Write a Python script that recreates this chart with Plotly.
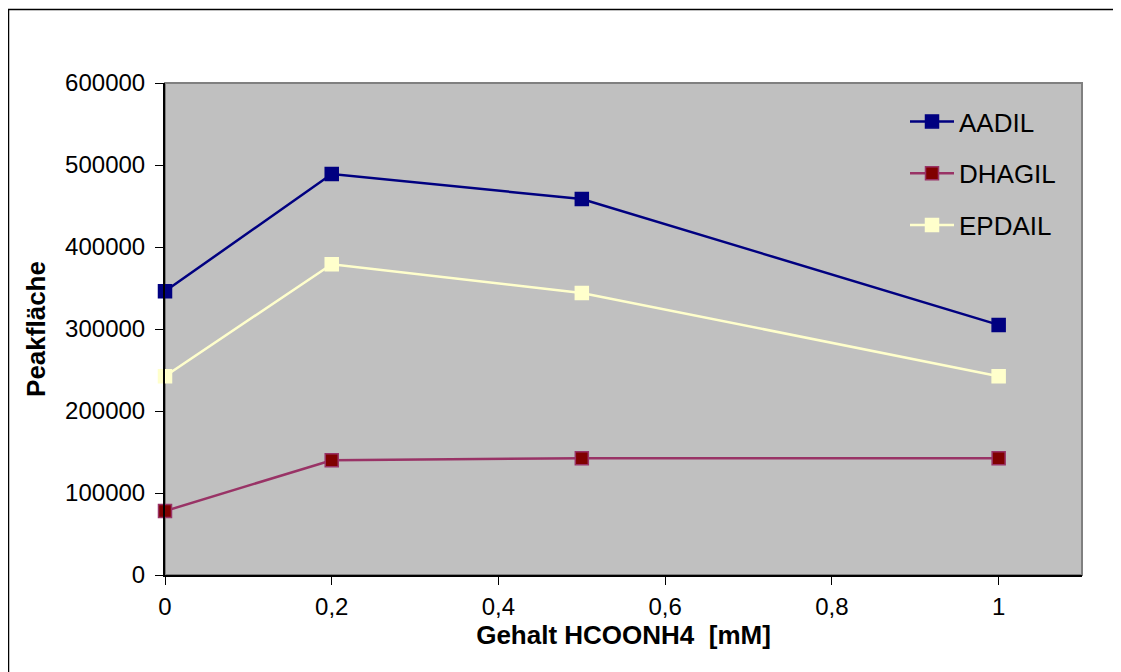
import plotly.graph_objects as go

x_vals = [0, 0.2, 0.5, 1]
aadil = [346000, 489000, 458500, 305000]
dhagil = [78000, 140000, 142500, 142500]
epdail = [242500, 379000, 344000, 242500]

x_tickvals = [0, 0.2, 0.4, 0.6, 0.8, 1]
x_ticktext = ["0", "0,2", "0,4", "0,6", "0,8", "1"]
y_tickvals = [0, 100000, 200000, 300000, 400000, 500000, 600000]
y_ticktext = ["0", "100000", "200000", "300000", "400000", "500000", "600000"]

FONT = "Arial, Liberation Sans, sans-serif"

fig = go.Figure()
series = [
    ("AADIL", aadil, "#000080", "#000080", "#000080"),
    ("DHAGIL", dhagil, "#993366", "#800000", "#993366"),
    ("EPDAIL", epdail, "#FFFFCC", "#FFFFCC", "#FFFFCC"),
]
for i, (name, ys, lc, fc, bc) in enumerate(series):
    fig.add_trace(go.Scatter(
        x=x_vals, y=ys, name=name, mode="lines+markers",
        legendgroup=f"g{i}",
        line=dict(color=lc, width=2.5),
        marker=dict(symbol="square", size=13, color=fc,
                    line=dict(color=bc, width=1.5)),
        cliponaxis=False,
    ))

OFF = 8  # page body margin
W, H = 1121 - OFF, 672 - OFF
# plot area in page pixel coords
L, R, T, B = 165, 1082, 83, 575
pw, ph = R - L, B - T

def px(xpage):
    return (xpage - L) / pw

def py(ypage):
    return (B - ypage) / ph

fig.update_layout(
    width=W, height=H,
    margin=dict(l=L - OFF, r=(W + OFF) - R, t=T - OFF, b=(H + OFF) - B, pad=0),
    paper_bgcolor="white",
    plot_bgcolor="#C0C0C0",
    font=dict(family=FONT, size=24, color="black"),
    showlegend=True,
    legend=dict(
        x=px(905), y=py(98), xanchor="left", yanchor="top",
        bgcolor="rgba(0,0,0,0)", borderwidth=0,
        font=dict(size=26, family=FONT),
        tracegroupgap=15,
        itemwidth=44,
    ),
    xaxis=dict(
        range=[0, 1.1], tickvals=x_tickvals, ticktext=x_ticktext,
        showgrid=False, zeroline=False,
        showline=True, linecolor="black", linewidth=2,
        ticks="outside", ticklen=8, tickcolor="black", tickwidth=1,
        tickfont=dict(size=24, family=FONT),
        ticklabelstandoff=1,
        title=dict(text="<b>Gehalt HCOONH4  [mM]</b>", font=dict(size=26, family=FONT), standoff=7),
    ),
    yaxis=dict(
        range=[0, 600000], tickvals=y_tickvals, ticktext=y_ticktext,
        showgrid=False, zeroline=False,
        showline=True, linecolor="black", linewidth=2,
        ticks="outside", ticklen=8, tickcolor="black", tickwidth=1,
        tickfont=dict(size=24, family=FONT),
        ticklabelstandoff=5,
        title=dict(text="<b>Peakfläche</b>", font=dict(size=26, family=FONT), standoff=12),
    ),
    shapes=[
        dict(type="rect", xref="paper", yref="paper",
             x0=0, x1=1, y0=0, y1=1,
             line=dict(color="#808080", width=2), layer="below"),
        dict(type="rect", xref="paper", yref="paper",
             x0=px(8.5), x1=px(1135), y0=py(690), y1=py(9.5),
             line=dict(color="black", width=1.5), layer="above"),
    ],
)

fig.write_html("out.html")
